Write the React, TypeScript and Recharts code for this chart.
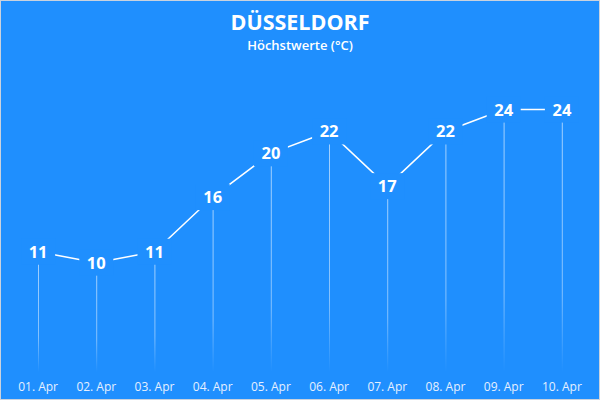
import { ComposedChart, Bar, Line, XAxis, YAxis, LabelList } from "recharts";

const DAYS = ["01. Apr", "02. Apr", "03. Apr", "04. Apr", "05. Apr", "06. Apr", "07. Apr", "08. Apr", "09. Apr", "10. Apr"];
const MAX_TEMP = [11, 10, 11, 16, 20, 22, 17, 22, 24, 24];

const BG = "#1f8ffe";
const FONT = "'Open Sans', 'Noto Sans', sans-serif";

const data = DAYS.map((day, i) => ({ day, temp: MAX_TEMP[i] }));

// label sitting on the point, with a box in background colour so the line breaks around it
function PointLabel(props: any) {
  const { x, y, value } = props;
  const w = String(value).length * 10 + 14;
  return (
    <g>
      <rect x={x - w / 2} y={y - 13} width={w} height={26} fill={BG} />
      <text x={x} y={y} dy="0.36em" textAnchor="middle" fill="#fff" fontSize={16.5} fontWeight={700} fontFamily={FONT}>
        {value}
      </text>
    </g>
  );
}

export default function App() {
  return (
    <div style={{ position: "absolute", left: 0, top: 0, width: 600, height: 400, background: BG, border: "1px solid #c9d2de", boxSizing: "border-box", fontFamily: FONT }}>
      <div style={{ position: "absolute", top: 6, width: "100%", textAlign: "center", color: "#fff", fontSize: 21.5, fontWeight: 700 }}>
        DÜSSELDORF
      </div>
      <div style={{ position: "absolute", top: 35, width: "100%", textAlign: "center", color: "#fff", fontSize: 13, fontWeight: 600 }}>
        Höchstwerte (°C)
      </div>
      <div style={{ position: "absolute", left: -1, top: -1 }}>
        <ComposedChart width={600} height={400} data={data} margin={{ top: 44, right: 9, left: 9, bottom: 0 }}>
          <defs>
            <linearGradient id="drop" x1="0" y1="0" x2="0" y2="1">
              <stop offset="0%" stopColor="#fff" stopOpacity={0.6} />
              <stop offset="70%" stopColor="#fff" stopOpacity={0.45} />
              <stop offset="100%" stopColor="#fff" stopOpacity={0} />
            </linearGradient>
          </defs>
          <XAxis dataKey="day" axisLine={false} tickLine={false} height={28} tickMargin={4}
            tick={{ fill: "#e6efff", fontSize: 12, fontFamily: FONT }} interval={0} />
          <YAxis hide domain={[0, 30]} />
          <Bar dataKey="temp" barSize={1} fill="url(#drop)" isAnimationActive={false} />
          <Line dataKey="temp" stroke="#fff" strokeWidth={1.5} dot={false} isAnimationActive={false}>
            <LabelList dataKey="temp" content={PointLabel} />
          </Line>
        </ComposedChart>
      </div>
    </div>
  );
}
